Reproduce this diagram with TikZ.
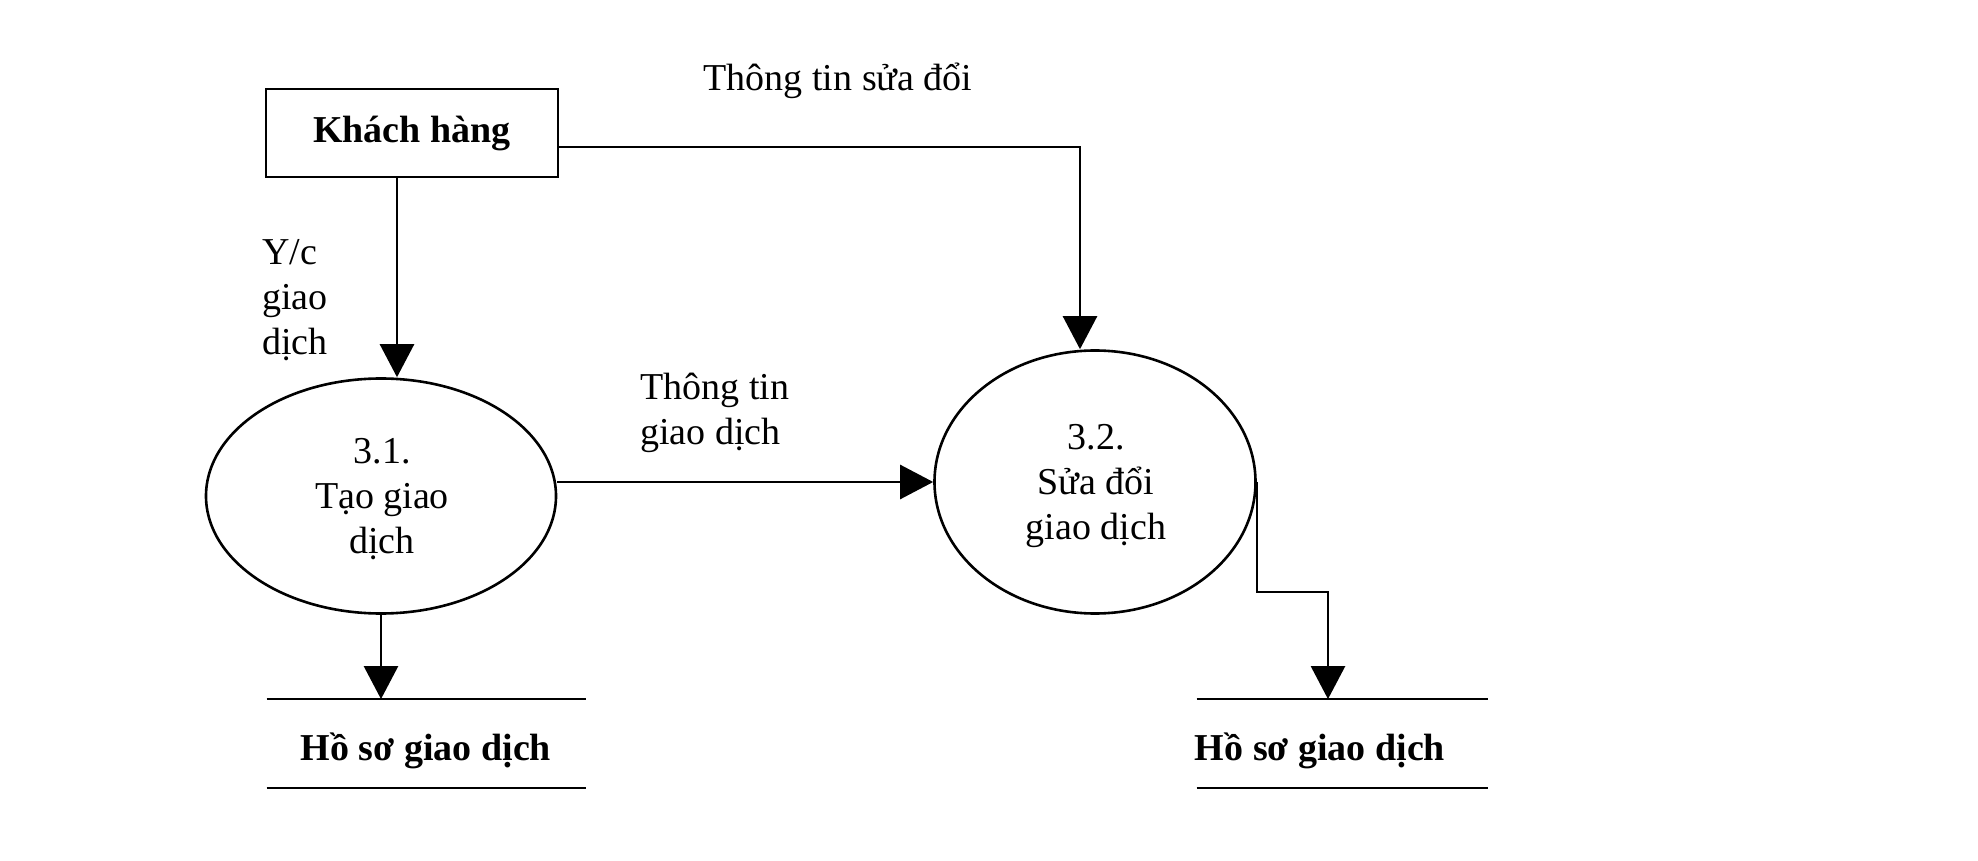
\documentclass[tikz,border=0pt]{standalone}
\usepackage{fontspec}
\setmainfont{Liberation Serif}
\usetikzlibrary{arrows.meta,shapes.geometric}
\newcommand{\mysize}{\fontsize{19}{22.5}\selectfont}
\tikzset{
  flow/.style={line width=1.3pt,-{Triangle[width=17pt,length=16.5pt]}},
  entity/.style={draw,line width=1.3pt,rectangle,minimum width=146pt,minimum height=44pt,inner sep=0pt,font=\mysize\bfseries},
  proc/.style={draw,line width=1.3pt,ellipse,inner sep=0pt,align=center},
  store/.style={rectangle,draw=none,inner sep=0pt,
    append after command={
      (\tikzlastnode.north west) edge[line width=1.3pt,-] (\tikzlastnode.north east)
      (\tikzlastnode.south west) edge[line width=1.3pt,-] (\tikzlastnode.south east)}},
  lbl/.style={inner sep=0pt,align=left},
  stxt/.style={inner sep=0pt,font=\mysize\bfseries},
}
\begin{document}
\begin{tikzpicture}[x=0.5pt,y=-0.5pt,font=\mysize]
\useasboundingbox (0,0) rectangle (1978,861);
% nodes
\node[entity] (kh) at (412,133) {\raisebox{-2pt}{Khách hàng}};
\node[proc,minimum width=175pt,minimum height=117.5pt] (e1) at (381,496) {};
\node[proc,minimum width=160.5pt,minimum height=131.5pt] (e2) at (1095,482) {};
\node[lbl,align=center] (e1t) at (382,499) {3.1.\\Tạo giao\\dịch};
\node[lbl,align=center] (e2t) at (1096,486) {3.2.\\Sửa đổi\\giao dịch};
\node[store,minimum width=159.5pt,minimum height=44pt] (s1) at (426.5,743.5) {};
\node[store,minimum width=145.5pt,minimum height=44pt] (s2) at (1342.5,743.5) {};
\node[stxt] (t1) at (426,751) {Hồ sơ giao dịch};
\node[stxt] (t2) at (1320,751) {Hồ sơ giao dịch};
% labels
\node[lbl] (l1) at (838,81) {Thông tin sửa đổi};
\node[lbl,anchor=west] (l2) at (262,300) {Y/c\\giao\\dịch};
\node[lbl,anchor=west] (l3) at (640,413) {Thông tin\\giao dịch};
% bend coordinates
\coordinate (c1) at (397,0);
\coordinate (c2) at (1080,147);
\coordinate (c3) at (1328,592);
% connectors
\draw[flow] (kh.south -| c1) -- (c1 |- e1.north);
\draw[flow] (kh.east |- c2) -- (c2) -- (c2 |- e2.north);
\draw[flow] (e1.east |- e2.west) -- (e2.west);
\draw[flow] (e1.south) -- (e1.south |- s1.north);
\draw[flow] (e2.east) -- (e2.east |- c3) -- (c3) -- (c3 |- s2.north);
\end{tikzpicture}
\end{document}
